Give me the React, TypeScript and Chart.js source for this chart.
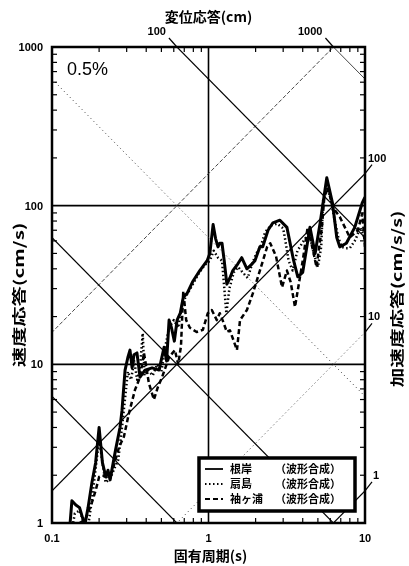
import React, { useEffect, useRef } from 'react';
import { Chart, registerables } from 'chart.js';

Chart.register(...registerables);

// ---- Data (period in s, velocity response in cm/s) ----
const negishiT = [0.13, 0.134, 0.142, 0.15, 0.158, 0.163, 0.17, 0.18, 0.19, 0.2, 0.21, 0.221, 0.228, 0.235, 0.255, 0.272, 0.28, 0.293, 0.305, 0.315, 0.325, 0.334, 0.349, 0.365, 0.393, 0.436, 0.483, 0.52, 0.54, 0.56, 0.58, 0.605, 0.63, 0.66, 0.69, 0.73, 0.79, 0.88, 0.98, 1.02, 1.07, 1.11, 1.15, 1.18, 1.22, 1.26, 1.31, 1.37, 1.43, 1.54, 1.63, 1.76, 1.9, 1.98, 2.13, 2.22, 2.4, 2.58, 2.86, 3.17, 3.5, 3.72, 4.0, 4.45, 4.8, 5.17, 5.7, 6.2, 6.6, 6.9, 7.6, 8.6, 9.6, 10];
const negishiV = [0.95, 1.38, 1.3, 1.25, 1.05, 1.0, 1.25, 1.8, 2.4, 4.0, 2.4, 1.95, 2.15, 1.87, 2.9, 4.0, 5.1, 9.2, 11, 12.3, 9.5, 11.5, 11.8, 8.3, 9.2, 9.5, 9.2, 12.8, 10.5, 19, 17, 14, 19, 21, 26.5, 28, 33, 39, 45, 50, 76, 62, 55, 58, 58, 45, 32, 35, 39, 43, 47, 40, 43, 45, 55, 55, 70, 78, 81, 73, 45, 35.6, 38, 73, 50, 78, 150, 104, 63, 55, 58, 73, 104, 113];

const ogishimaT = [0.135, 0.14, 0.15, 0.16, 0.17, 0.18, 0.19, 0.2, 0.21, 0.22, 0.235, 0.25, 0.265, 0.28, 0.295, 0.305, 0.32, 0.335, 0.35, 0.365, 0.38, 0.39, 0.41, 0.44, 0.47, 0.5, 0.53, 0.56, 0.6, 0.64, 0.68, 0.72, 0.78, 0.86, 0.94, 1.02, 1.08, 1.15, 1.22, 1.3, 1.36, 1.45, 1.55, 1.65, 1.78, 1.9, 2.02, 2.15, 2.3, 2.5, 2.75, 3.0, 3.1, 3.25, 3.45, 3.7, 4.1, 4.4, 4.7, 5.0, 5.25, 5.4, 5.7, 6.0, 6.4, 6.75, 7.1, 7.5, 8.0, 8.7, 9.3, 10];
const ogishimaV = [0.95, 1.15, 1.2, 1.0, 0.95, 1.4, 2.2, 3.4, 2.4, 1.8, 1.9, 2.2, 2.5, 4.0, 6.5, 9.0, 8.0, 10.5, 8.0, 9.5, 15.7, 8.5, 9.2, 8.5, 10.0, 9.0, 13, 17, 19, 17, 24, 27, 31, 37, 42, 45, 52, 47, 45, 21, 30, 38, 41, 38, 35, 43, 50, 55, 68, 75, 77, 72, 60, 45, 39, 52, 61, 67, 50, 41, 55, 108, 130, 113, 81, 63, 55, 54, 54, 61, 73, 62];

const sodegauraT = [0.14, 0.15, 0.163, 0.172, 0.18, 0.19, 0.2, 0.21, 0.225, 0.242, 0.268, 0.288, 0.31, 0.339, 0.365, 0.387, 0.416, 0.448, 0.475, 0.505, 0.53, 0.56, 0.61, 0.64, 0.667, 0.69, 0.72, 0.76, 0.84, 0.92, 0.99, 1.05, 1.13, 1.18, 1.23, 1.31, 1.37, 1.52, 1.59, 1.76, 1.92, 2.13, 2.37, 2.48, 2.7, 2.95, 3.17, 3.35, 3.57, 4.0, 4.3, 4.6, 4.9, 5.3, 5.5, 5.8, 6.2, 6.9, 8.0, 9.0, 9.6, 10];
const sodegauraV = [0.9, 1.0, 1.05, 1.2, 1.35, 1.6, 1.95, 2.0, 1.95, 2.1, 3.0, 3.5, 4.9, 6.9, 8.3, 11.8, 7.6, 6.0, 7.2, 8.3, 9.5, 11.1, 12.3, 10, 13, 29, 19, 17, 16, 16.5, 21, 22, 19, 21, 19, 16, 16.4, 12.3, 19, 22, 28, 39, 55, 58, 48, 30.6, 39, 33, 23, 45, 73, 55, 41, 73, 114, 130, 98, 85, 63, 70, 89, 55];

const seriesNames = ['根岸', '扇島', '袖ヶ浦'];
const legendSuffix = '（波形合成）';

// tripartite grid levels
const dispLevels = [0.1, 1, 10, 100, 1000]; // cm
const accLevels = [1, 10, 100, 1000]; // cm/s/s
const dispLabels = [100, 1000];
const accLabels = [1, 10, 100];

const xTicks = [0.1, 1, 10];
const yTicks = [1, 10, 100, 1000];
const xGrid = [1];
const yGrid = [10, 100];

const dampingLabel = '0.5%';
const xTitle = '固有周期(s)';
const yTitle = '速度応答(cm/s)';
const topTitle = '変位応答(cm)';
const rightTitle = '加速度応答(cm/s/s)';

const TMIN = 0.1, TMAX = 10, VMIN = 1, VMAX = 1000;
const TWO_PI = 2 * Math.PI;

const CJK = '"Noto Sans CJK JP", sans-serif';
const NUM = '"Liberation Sans", Arial, sans-serif';

function pts(ts: number[], vs: number[]) {
  return ts.map((t, i) => ({ x: t, y: vs[i] }));
}

const seriesStyles = [
  { borderWidth: 3, borderDash: [] as number[] },
  { borderWidth: 2.5, borderDash: [1.5, 2.5] },
  { borderWidth: 2.5, borderDash: [5, 3] },
];

function dispStyle(d: number) {
  if (d === 10) return { color: '#555', width: 1, dash: [1.2, 3] };
  if (d === 1000) return { color: '#333', width: 0.9, dash: [] as number[] };
  return { color: '#000', width: 1.2, dash: [] as number[] };
}
function accStyle(a: number) {
  if (a === 10) return { color: '#555', width: 1, dash: [1.2, 3] };
  if (a === 1000) return { color: '#333', width: 0.9, dash: [4, 2] };
  return { color: '#000', width: 1.2, dash: [] as number[] };
}

const overlay = {
  id: 'overlay',
  beforeDatasetsDraw(chart: any) {
    const { ctx, chartArea: a, scales } = chart;
    const xs = scales.x, ys = scales.y;
    ctx.save();
    ctx.strokeStyle = '#000';
    ctx.lineWidth = 1.6;
    ctx.setLineDash([]);
    for (const t of xGrid) {
      const x = xs.getPixelForValue(t);
      ctx.beginPath(); ctx.moveTo(x, a.top); ctx.lineTo(x, a.bottom); ctx.stroke();
    }
    for (const v of yGrid) {
      const y = ys.getPixelForValue(v);
      ctx.beginPath(); ctx.moveTo(a.left, y); ctx.lineTo(a.right, y); ctx.stroke();
    }
    ctx.restore();
  },
  afterDatasetsDraw(chart: any) {
    const { ctx, chartArea: a, scales } = chart;
    const xs = scales.x, ys = scales.y;
    ctx.save();
    ctx.setLineDash([]);
    ctx.strokeStyle = '#000';
    // minor ticks
    ctx.lineWidth = 1.2;
    for (let d = 0.1; d < TMAX; d *= 10) {
      for (let k = 2; k <= 9; k++) {
        const x = xs.getPixelForValue(k * d);
        ctx.beginPath(); ctx.moveTo(x, a.bottom); ctx.lineTo(x, a.bottom - 5); ctx.stroke();
        ctx.beginPath(); ctx.moveTo(x, a.top); ctx.lineTo(x, a.top + 5); ctx.stroke();
      }
    }
    for (let d = 1; d < VMAX; d *= 10) {
      for (let k = 2; k <= 9; k++) {
        const y = ys.getPixelForValue(k * d);
        ctx.beginPath(); ctx.moveTo(a.left, y); ctx.lineTo(a.left + 5, y); ctx.stroke();
        ctx.beginPath(); ctx.moveTo(a.right, y); ctx.lineTo(a.right - 5, y); ctx.stroke();
      }
    }
    // frame
    ctx.lineWidth = 2.5;
    ctx.strokeRect(a.left, a.top, a.right - a.left, a.bottom - a.top);

    // tick labels
    ctx.fillStyle = '#000';
    ctx.font = 'bold 11px ' + NUM;
    ctx.textAlign = 'right';
    ctx.textBaseline = 'middle';
    for (const v of yTicks) {
      ctx.fillText(String(v), a.left - 9, ys.getPixelForValue(v) + 1);
    }
    ctx.textAlign = 'center';
    ctx.textBaseline = 'top';
    for (const t of xTicks) {
      ctx.fillText(String(t), xs.getPixelForValue(t), a.bottom + 10);
    }

    // displacement labels on top
    ctx.lineWidth = 1.2;
    ctx.textAlign = 'right';
    ctx.textBaseline = 'middle';
    for (const d of dispLabels) {
      const x = xs.getPixelForValue((TWO_PI * d) / VMAX);
      ctx.beginPath(); ctx.moveTo(x - 8, a.top - 9); ctx.lineTo(x, a.top); ctx.stroke();
      ctx.fillText(String(d), x - 11, a.top - 15);
    }
    // acceleration labels on right
    ctx.textAlign = 'left';
    for (const acc of accLabels) {
      const y = ys.getPixelForValue((acc * TMAX) / TWO_PI);
      ctx.beginPath(); ctx.moveTo(a.right, y); ctx.lineTo(a.right + 7, y - 9); ctx.stroke();
      ctx.fillText(String(acc), a.right + (acc === 1 ? 8 : 3), y - 15);
    }

    // damping label
    ctx.font = '18px ' + NUM;
    ctx.textAlign = 'left';
    ctx.fillText(dampingLabel, a.left + 15, a.top + 23);

    // titles
    ctx.font = 'bold 14px ' + CJK;
    ctx.textAlign = 'center';
    ctx.textBaseline = 'middle';
    ctx.fillText(xTitle, (a.left + a.right) / 2 + 2, a.bottom + 33);
    ctx.fillText(topTitle, (a.left + a.right) / 2, 17);
    ctx.save();
    ctx.translate(19, 295);
    ctx.rotate(-Math.PI / 2);
    ctx.scale(1.45, 1);
    ctx.fillText(yTitle, 0, 0);
    ctx.restore();
    ctx.save();
    ctx.translate(397, 299);
    ctx.rotate(-Math.PI / 2);
    ctx.scale(1.4, 1);
    ctx.fillText(rightTitle, 0, 0);
    ctx.restore();

    // legend box
    const bx = 199, by = 458, bw = 156, bh = 53;
    ctx.fillStyle = '#fff';
    ctx.fillRect(bx, by, bw, bh);
    ctx.lineWidth = 3.5;
    ctx.strokeStyle = '#000';
    ctx.strokeRect(bx, by, bw, bh);
    ctx.fillStyle = '#000';
    ctx.font = 'bold 11px ' + CJK;
    ctx.textAlign = 'left';
    ctx.textBaseline = 'middle';
    seriesNames.forEach((name, i) => {
      const y = by + 11 + i * 15;
      const st = seriesStyles[i];
      ctx.lineWidth = i === 0 ? 1.8 : 2;
      ctx.setLineDash(st.borderDash);
      ctx.beginPath(); ctx.moveTo(bx + 6, y); ctx.lineTo(bx + 24, y); ctx.stroke();
      ctx.setLineDash([]);
      ctx.fillText(name, bx + 31, y);
      ctx.fillText(legendSuffix, bx + 76, y);
    });
    ctx.restore();
  },
};

export default function App() {
  const ref = useRef<HTMLCanvasElement>(null);
  useEffect(() => {
    if (!ref.current) return;
    const seriesData = [pts(negishiT, negishiV), pts(ogishimaT, ogishimaV), pts(sodegauraT, sodegauraV)];
    const datasets: any[] = seriesData.map((d, i) => ({
      label: seriesNames[i],
      data: d,
      showLine: true,
      borderColor: '#000',
      backgroundColor: '#000',
      borderWidth: seriesStyles[i].borderWidth,
      borderDash: seriesStyles[i].borderDash,
      pointRadius: 0,
      tension: 0,
      borderJoinStyle: 'round',
    }));
    for (const d of dispLevels) {
      const s = dispStyle(d);
      datasets.push({
        label: 'D' + d,
        data: [
          { x: TMIN / 2, y: (TWO_PI * d) / (TMIN / 2) },
          { x: TMAX * 2, y: (TWO_PI * d) / (TMAX * 2) },
        ],
        showLine: true, borderColor: s.color, borderWidth: s.width, borderDash: s.dash, pointRadius: 0,
      });
    }
    for (const acc of accLevels) {
      const s = accStyle(acc);
      datasets.push({
        label: 'A' + acc,
        data: [
          { x: TMIN / 2, y: (acc * TMIN) / 2 / TWO_PI },
          { x: TMAX * 2, y: (acc * TMAX * 2) / TWO_PI },
        ],
        showLine: true, borderColor: s.color, borderWidth: s.width, borderDash: s.dash, pointRadius: 0,
      });
    }
    const chart = new Chart(ref.current, {
      type: 'scatter',
      data: { datasets },
      options: {
        responsive: false,
        animation: false,
        events: [],
        layout: { padding: { left: 52, right: 44, top: 47, bottom: 43 } },
        plugins: { legend: { display: false }, tooltip: { enabled: false } },
        scales: {
          x: { type: 'logarithmic', min: TMIN, max: TMAX, display: false },
          y: { type: 'logarithmic', min: VMIN, max: VMAX, display: false },
        },
      },
      plugins: [overlay],
    });
    return () => chart.destroy();
  }, []);
  return (
    <div style={{ position: 'absolute', left: 0, top: 0, width: 409, height: 566, background: '#fff' }}>
      <canvas ref={ref} width={409} height={566} />
    </div>
  );
}
